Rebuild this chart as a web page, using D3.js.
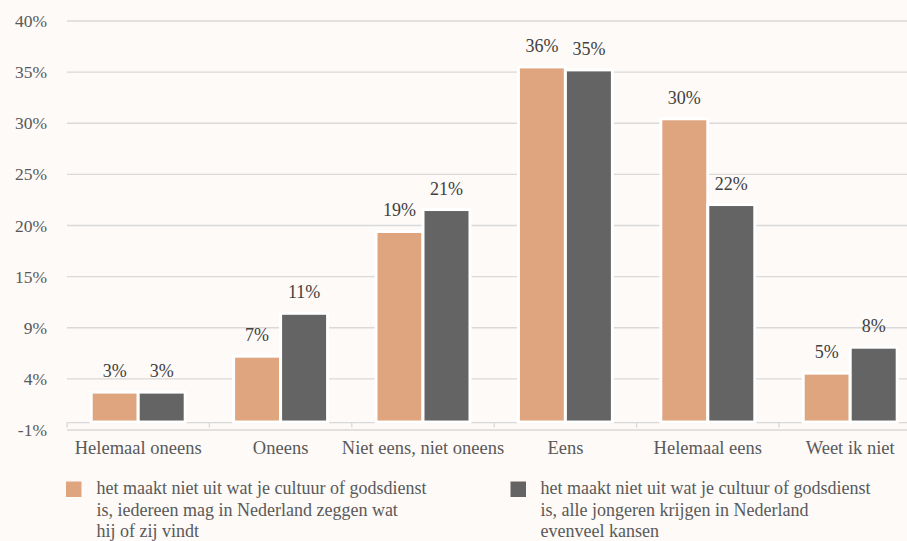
<!DOCTYPE html>
<html>
<head>
<meta charset="utf-8">
<script src="https://cdn.jsdelivr.net/npm/d3@7"></script>
<style>
  html, body { margin: 0; padding: 0; background: #fdfaf8; }
  svg { display: block; }
  text { font-family: "Liberation Serif", "Times New Roman", serif; fill: #595959; }
</style>
</head>
<body>
<svg id="chart" width="907" height="541"></svg>
<script>
const categories = ["Helemaal oneens", "Oneens", "Niet eens, niet oneens", "Eens", "Helemaal eens", "Weet ik niet"];
const seriesA = [2.8, 6.4, 18.9, 35.4, 30.2, 4.7];
const seriesB = [2.8, 10.7, 21.1, 35.1, 21.6, 7.3];
const labelsA = ["3%", "7%", "19%", "36%", "30%", "5%"];
const labelsB = ["3%", "11%", "21%", "35%", "22%", "8%"];
const yTickLabels = ["-1%", "4%", "9%", "15%", "20%", "25%", "30%", "35%", "40%"];
const yMin = -1, yMax = 40;
const seriesNamesA = ["het maakt niet uit wat je cultuur of godsdienst", "is, iedereen mag in Nederland zeggen wat", "hij of zij vindt"];
const seriesNamesB = ["het maakt niet uit wat je cultuur of godsdienst", "is, alle jongeren krijgen in Nederland", "evenveel kansen"];
const colors = ["#dfa57f", "#646464"];

const svg = d3.select("#chart");
const left = 67, bandW = 142.4;
const x = d3.scaleBand().domain(categories).range([left, left + bandW * categories.length]).padding(0);
const y = d3.scaleLinear().domain([yMin, yMax]).range([430, 21]);

const tickVals = yTickLabels.map((d, i) => yMin + i * (yMax - yMin) / (yTickLabels.length - 1));

// gridlines
svg.append("g").selectAll("line").data(tickVals).join("line")
  .attr("x1", left).attr("x2", 907)
  .attr("y1", d => y(d)).attr("y2", d => y(d))
  .attr("stroke", "#d9d9d9").attr("stroke-width", 1.3);

// y labels
svg.append("g").selectAll("text").data(tickVals).join("text")
  .attr("x", 47).attr("y", d => y(d) + 6)
  .attr("text-anchor", "end").attr("font-size", 17.5)
  .text((d, i) => yTickLabels[i]);

// x axis line + ticks
const base = y(0) + 2.6;
svg.append("line").attr("x1", left).attr("x2", 907).attr("y1", base).attr("y2", base)
  .attr("stroke", "#d9d9d9").attr("stroke-width", 1.3);
const bounds = categories.map(c => x(c));
svg.append("g").selectAll("line").data(bounds).join("line")
  .attr("x1", d => d).attr("x2", d => d)
  .attr("y1", base).attr("y2", base + 5)
  .attr("stroke", "#d9d9d9").attr("stroke-width", 1.3);

// bars
const bw = x.bandwidth() * 0.33;
const groups = [seriesA, seriesB];
const labels = [labelsA, labelsB];
groups.forEach((vals, s) => {
  const g = svg.append("g");
  g.selectAll("rect").data(vals).join("rect")
    .attr("x", (d, i) => x(categories[i]) + x.bandwidth() / 2 - bw + s * bw)
    .attr("y", d => y(d))
    .attr("width", bw)
    .attr("height", d => base - 0.6 - y(d))
    .attr("fill", colors[s])
    .attr("stroke", "#ffffff").attr("stroke-width", 3);
  g.selectAll("text").data(vals).join("text")
    .attr("x", (d, i) => x(categories[i]) + x.bandwidth() / 2 - bw / 2 + s * bw)
    .attr("y", d => y(d) - 15)
    .attr("text-anchor", "middle").attr("font-size", 18)
    .style("fill", "#404040")
    .text((d, i) => labels[s][i]);
});

// category labels
svg.append("g").selectAll("text").data(categories).join("text")
  .attr("x", d => x(d) + x.bandwidth() / 2)
  .attr("y", 453.5)
  .attr("text-anchor", "middle").attr("font-size", 18.5)
  .text(d => d);

// legend
const legend = [
  { lines: seriesNamesA, color: colors[0], sx: 66, tx: 96.5 },
  { lines: seriesNamesB, color: colors[1], sx: 510.5, tx: 540.5 }
];
legend.forEach(l => {
  svg.append("rect").attr("x", l.sx).attr("y", 481.5).attr("width", 15.5).attr("height", 15.5).attr("fill", l.color);
  const t = svg.append("text").attr("x", l.tx).attr("y", 494).attr("font-size", 18);
  t.selectAll("tspan").data(l.lines).join("tspan")
    .attr("x", l.tx).attr("y", (d, i) => 494 + i * 21.7)
    .text(d => d);
});
</script>
</body>
</html>
